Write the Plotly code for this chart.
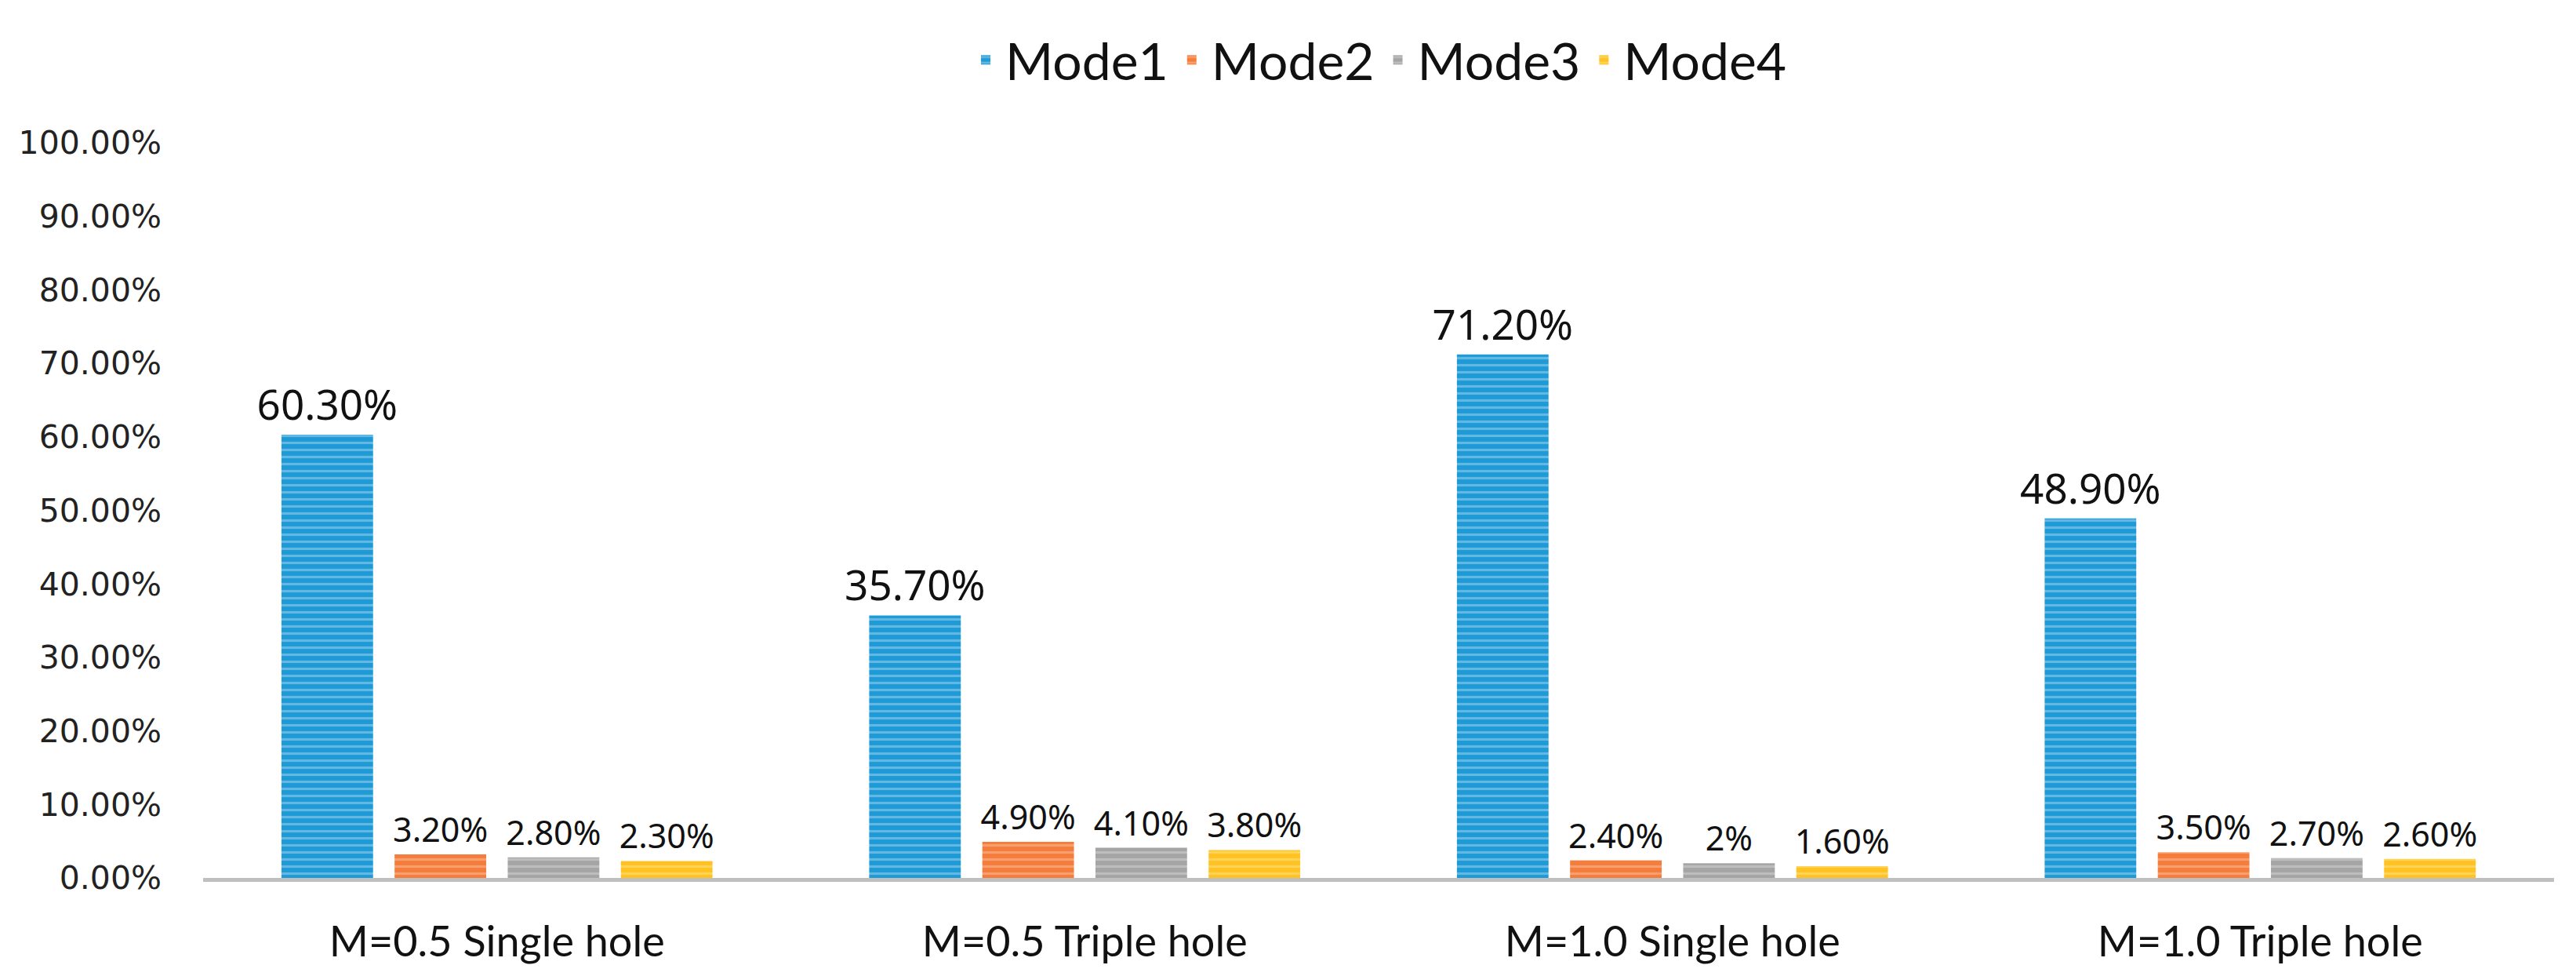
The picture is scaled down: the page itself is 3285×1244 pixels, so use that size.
import plotly.graph_objects as go

categories = ["M=0.5 Single hole", "M=0.5 Triple hole", "M=1.0 Single hole", "M=1.0 Triple hole"]
series_names = ["Mode1", "Mode2", "Mode3", "Mode4"]
mode1 = [0.603, 0.357, 0.712, 0.489]
mode2 = [0.032, 0.049, 0.024, 0.035]
mode3 = [0.028, 0.041, 0.020, 0.027]
mode4 = [0.023, 0.038, 0.016, 0.026]
mode1_text = ["60.30%", "35.70%", "71.20%", "48.90%"]
mode2_text = ["3.20%", "4.90%", "2.40%", "3.50%"]
mode3_text = ["2.80%", "4.10%", "2%", "2.70%"]
mode4_text = ["2.30%", "3.80%", "1.60%", "2.60%"]
y_ticks = [0, 0.1, 0.2, 0.3, 0.4, 0.5, 0.6, 0.7, 0.8, 0.9, 1.0]

colors = ["#1E9AD6", "#F47C3C", "#A5A5A5", "#FFC222"]
stripe = ["#A8D6F0", "#FBC2A0", "#D6D6D6", "#FFE38A"]
values = [mode1, mode2, mode3, mode4]
texts = [mode1_text, mode2_text, mode3_text, mode4_text]
label_sizes = [53, 43, 43, 43]

fig = go.Figure()
for i in range(4):
    fig.add_trace(go.Bar(
        name=series_names[i],
        x=categories,
        y=values[i],
        text=texts[i],
        textposition="outside",
        constraintext="none",
        cliponaxis=False,
        textfont=dict(family="Noto Sans", size=label_sizes[i], color="#111111"),
        marker=dict(
            color=colors[i],
            line=dict(width=0),
            pattern=dict(shape="-", fgcolor=stripe[i], size=9, solidity=0.35),
        ),
    ))

fig.update_layout(
    width=3285, height=1244,
    paper_bgcolor="white", plot_bgcolor="white",
    barmode="group", bargap=0.23, bargroupgap=0.19,
    margin=dict(l=251, r=36, t=174, b=133),
    legend=dict(
        orientation="h", x=0.5, xanchor="center", y=0.945, yref="container",
        yanchor="middle", font=dict(family="Lato", size=66, color="#111111"),
        itemsizing="constant", traceorder="normal", itemwidth=40,
    ),
    showlegend=True,
)
fig.update_xaxes(
    showline=True, linecolor="#BFBFBF", linewidth=5,
    tickfont=dict(family="Lato", size=54, color="#111111"),
    ticks="", ticklabelstandoff=30, showgrid=False,
)
fig.update_yaxes(
    range=[0, 1.0], tickvals=y_ticks, tickformat=".2%",
    showgrid=False, zeroline=False, showline=False, ticks="",
    tickfont=dict(family="DejaVu Sans", size=41, color="#222222"),
    ticklabelstandoff=52,
)

fig.write_html("out.html")
